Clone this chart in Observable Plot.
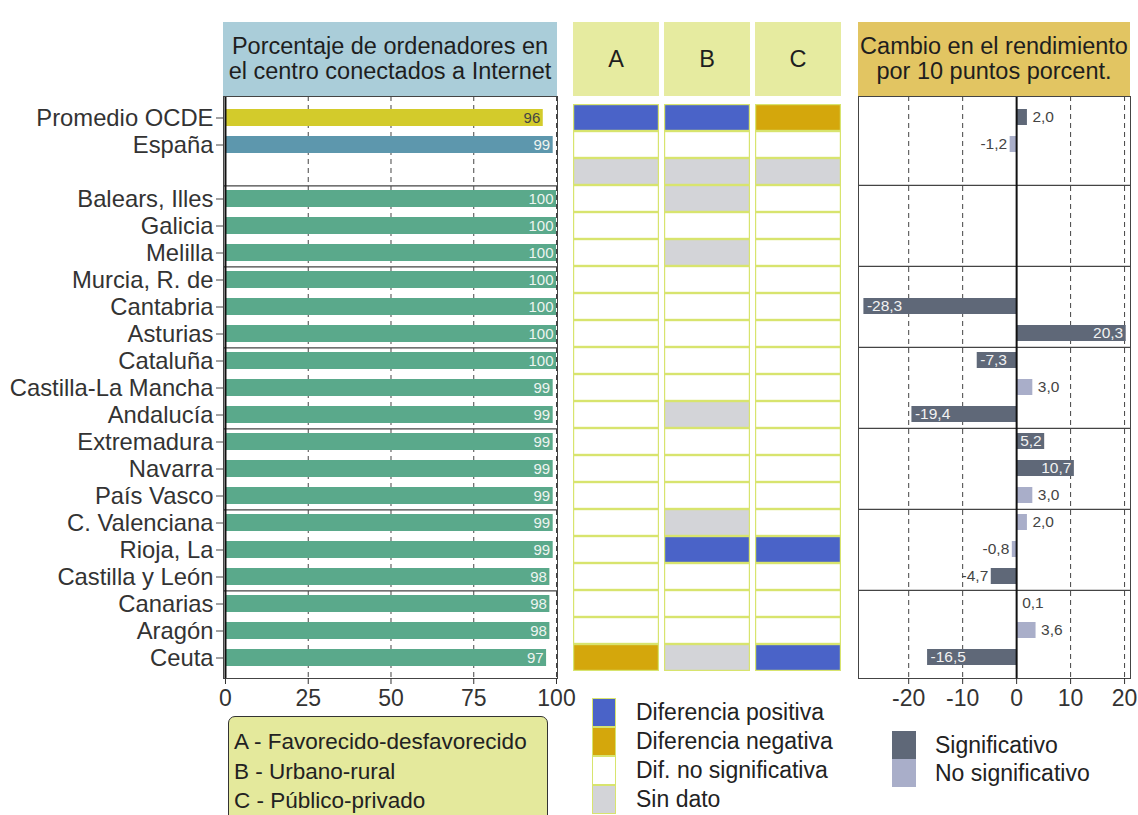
<!DOCTYPE html>
<html><head><meta charset="utf-8">
<script src="https://cdn.jsdelivr.net/npm/d3@7"></script>
<script src="https://cdn.jsdelivr.net/npm/@observablehq/plot@0.6"></script>
<style>
body{margin:0;background:#fff}
#root{position:relative;width:1138px;height:815px;overflow:hidden;font-family:"Liberation Sans",Arial,sans-serif;color:#222;background:#fff}
.hdr{position:absolute;display:flex;align-items:center;justify-content:center;text-align:center;font-size:23.5px;line-height:25px;color:#1e1e1e;z-index:2;white-space:nowrap}
.chart{position:absolute;top:0}
.lg{position:absolute;font-size:23px;color:#222;white-space:nowrap}
.sw{position:absolute;box-sizing:border-box}
</style>
</head><body>
<div id="root"></div>
<script>
// ---------- data ----------
const regions = ["Promedio OCDE","España"," ","Balears, Illes","Galicia","Melilla","Murcia, R. de","Cantabria","Asturias","Cataluña","Castilla-La Mancha","Andalucía","Extremadura","Navarra","País Vasco","C. Valenciana","Rioja, La","Castilla y León","Canarias","Aragón","Ceuta"];
const barGroup = ["OCDE","ES",null,"CA","CA","CA","CA","CA","CA","CA","CA","CA","CA","CA","CA","CA","CA","CA","CA","CA","CA"];
const pctInternet = [96,99,null,100,100,100,100,100,100,100,99,99,99,99,99,99,99,98,98,98,97];
const diffA = ["pos","ns","nd","ns","ns","ns","ns","ns","ns","ns","ns","ns","ns","ns","ns","ns","ns","ns","ns","ns","neg"];
const diffB = ["pos","ns","nd","nd","ns","nd","ns","ns","ns","ns","ns","nd","ns","ns","ns","nd","pos","ns","ns","ns","nd"];
const diffC = ["neg","ns","nd","ns","ns","ns","ns","ns","ns","ns","ns","ns","ns","ns","ns","ns","pos","ns","ns","ns","pos"];
const cambio = [2.0,-1.2,null,null,null,null,null,-28.3,20.3,-7.3,3.0,-19.4,5.2,10.7,3.0,2.0,-0.8,-4.7,0.1,3.6,-16.5];
const signif = ["S","N",null,null,null,null,null,"S","S","S","N","S","S","S","N","N","N","S","N","N","S"];
const groupEnds = [" ","Melilla","Asturias","Andalucía","País Vasco","Castilla y León"];
const columns = ["A","B","C"];
const columnNames = ["A - Favorecido-desfavorecido","B - Urbano-rural","C - Público-privado"];
const diffKeys = ["pos","neg","ns","nd"];
const diffLabels = ["Diferencia positiva","Diferencia negativa","Dif. no significativa","Sin dato"];
const sigKeys = ["S","N"];
const sigLabels = ["Significativo","No significativo"];
const titleLeft = ["Porcentaje de ordenadores en","el centro conectados a Internet"];
const titleRight = ["Cambio en el rendimiento","por 10 puntos porcent."];
const ticksLeft = [0,25,50,75,100];
const gridLeft = [25,50,75,100];
const ticksRight = [-20,-10,0,10,20];
const gridRight = [-20,-10,10,20];

// ---------- styles ----------
const diffColors = ["#4a63c8","#d4a70c","#ffffff","#d3d4d8"];
const sigColors = ["#5f6878","#a9aec9"];
const cellStroke = "#d8e46e";
const FONT = '"Liberation Sans", Arial, sans-serif';
const H = 715, MT = 96, MB = 37;
const step = (H - MT - MB) / regions.length;
const fmt = v => v.toFixed(1).replace(".", ",");

const root = document.getElementById("root");
function addDiv(cls, css, html) {
  const d = document.createElement("div");
  d.className = cls; d.style.cssText = css; d.innerHTML = html || "";
  root.appendChild(d); return d;
}

// ---------- left chart ----------
const leftRows = regions.map((r,i)=>({region:r, pct:pctInternet[i], grp:barGroup[i]})).filter(d=>d.pct!=null);
const left = Plot.plot({
  width: 565, height: H, marginTop: MT, marginBottom: MB, marginLeft: 223, marginRight: 8,
  style: {fontFamily: FONT, fontSize: "23px", color: "#333", background: "transparent", overflow: "visible"},
  x: {domain: [-0.6, 100.3], label: null},
  y: {domain: regions, paddingInner: 0.38, paddingOuter: 0.19, label: null},
  color: {domain: ["OCDE","ES","CA"], range: ["#d3cb2b","#5d97ad","#5aa98b"]},
  marks: [
    Plot.ruleX(gridLeft, {stroke: "#444", strokeDasharray: "5,4", strokeWidth: 1}),
    Plot.barX(leftRows, {x: "pct", y: "region", fill: "grp"}),
    Plot.text(leftRows.filter(d=>d.grp==="OCDE"), {x: "pct", y: "region", text: d=>String(d.pct), textAnchor: "end", dx: -3, fill: "#444", fontSize: 15}),
    Plot.text(leftRows.filter(d=>d.grp!=="OCDE"), {x: "pct", y: "region", text: d=>String(d.pct), textAnchor: "end", dx: -3, fill: "#eef4f0", fontSize: 15}),
    Plot.ruleY(groupEnds, {y: d=>d, dy: step/2, stroke: "#444", strokeWidth: 1.2}),
    Plot.ruleX([0], {stroke: "#111", strokeWidth: 2}),
    Plot.frame({stroke: "#444"}),
    Plot.axisY({ticks: regions.filter(r=>r.trim()), tickSize: 7, tickPadding: 3, fontSize: 23.8, stroke: "#444"}),
    Plot.axisX({ticks: ticksLeft, tickFormat: d => String(d), tickSize: 6, tickPadding: 5, fontSize: 23})
  ]
});
left.classList.add("chart"); left.style.left = "0px"; root.appendChild(left);

// ---------- middle chart ----------
const diffs = [diffA, diffB, diffC];
const cells = [];
regions.forEach((r,i)=>columns.forEach((c,j)=>cells.push({region:r, col:c, val:diffs[j][i]})));
const mid = Plot.plot({
  width: 268, height: H, marginTop: MT, marginBottom: MB, marginLeft: 0, marginRight: 0,
  style: {fontFamily: FONT, background: "transparent"},
  x: {domain: columns, paddingInner: 0.06, paddingOuter: 0, axis: null},
  y: {domain: regions, padding: 0, axis: null},
  color: {domain: diffKeys, range: diffColors},
  marks: [
    Plot.cell(cells, {x: "col", y: "region", fill: "val", stroke: cellStroke, strokeWidth: 1.2, inset: 0.6})
  ]
});
mid.classList.add("chart"); mid.style.left = "573px"; root.appendChild(mid);

// ---------- right chart ----------
const rightRows = regions.map((r,i)=>({region:r, v:cambio[i], sig:signif[i]})).filter(d=>d.v!=null);
const inside = d => d.sig==="S" && Math.abs(d.v) > 5;
const right = Plot.plot({
  width: 288, height: H, marginTop: MT, marginBottom: MB, marginLeft: 8, marginRight: 8,
  style: {fontFamily: FONT, fontSize: "23px", color: "#333", background: "transparent", overflow: "visible"},
  x: {domain: [-29.3, 21.1], label: null},
  y: {domain: regions, paddingInner: 0.4, paddingOuter: 0.2, axis: null},
  color: {domain: sigKeys, range: sigColors},
  marks: [
    Plot.ruleX(gridRight, {stroke: "#444", strokeDasharray: "5,4", strokeWidth: 1}),
    Plot.ruleY(groupEnds, {y: d=>d, dy: step/2, stroke: "#444", strokeWidth: 1.2}),
    Plot.barX(rightRows, {x: "v", y: "region", fill: "sig"}),
    Plot.ruleX([0], {stroke: "#111", strokeWidth: 2}),
    Plot.text(rightRows.filter(d=>inside(d) && d.v<0), {x: "v", y: "region", text: d=>fmt(d.v), textAnchor: "start", dx: 3, fill: "#f2f2f2", fontSize: 15.5}),
    Plot.text(rightRows.filter(d=>inside(d) && d.v>0), {x: "v", y: "region", text: d=>fmt(d.v), textAnchor: "end", dx: -3, fill: "#f2f2f2", fontSize: 15.5}),
    Plot.text(rightRows.filter(d=>!inside(d) && d.v<0), {x: "v", y: "region", text: d=>fmt(d.v), textAnchor: "end", dx: -3, fill: "#444", fontSize: 15.5}),
    Plot.text(rightRows.filter(d=>!inside(d) && d.v>=0), {x: "v", y: "region", text: d=>fmt(d.v), textAnchor: "start", dx: 5, fill: "#444", fontSize: 15.5}),
    Plot.frame({stroke: "#444"}),
    Plot.axisX({ticks: ticksRight, tickFormat: d => String(d), tickSize: 6, tickPadding: 5, fontSize: 23})
  ]
});
right.classList.add("chart"); right.style.left = "850px"; root.appendChild(right);

// ---------- headers ----------
addDiv("hdr", "left:223px;top:22px;width:334px;height:74px;background:#aacdd9", titleLeft.join("<br>"));
const colLeft = [573, 664, 755], colW = 86;
columns.forEach((c,j)=>addDiv("hdr", `left:${colLeft[j]}px;top:22px;width:${colW}px;height:74px;background:#e6eba0`, c));
addDiv("hdr", "left:858px;top:22px;width:272px;height:74px;background:#e2c562", titleRight.join("<br>"));

// ---------- legends ----------
addDiv("lg", "left:228px;top:716px;width:320px;height:110px;box-sizing:border-box;border:1px solid #333;border-radius:7px;background:#e4e99c;padding:10px 0 0 5px;line-height:29.5px;font-size:22.5px",
  columnNames.join("<br>"));
diffKeys.forEach((k,i)=>{
  addDiv("sw", `left:592px;top:${698+i*29}px;width:24px;height:29px;background:${diffColors[i]};border:1.5px solid ${cellStroke}`);
  addDiv("lg", `left:636px;top:${698+i*29}px;height:29px;line-height:29px`, diffLabels[i]);
});
sigKeys.forEach((k,i)=>{
  addDiv("sw", `left:892px;top:${731+i*28}px;width:24px;height:28px;background:${sigColors[i]}`);
  addDiv("lg", `left:935px;top:${731+i*28}px;height:28px;line-height:28px`, sigLabels[i]);
});
</script>
</body></html>
